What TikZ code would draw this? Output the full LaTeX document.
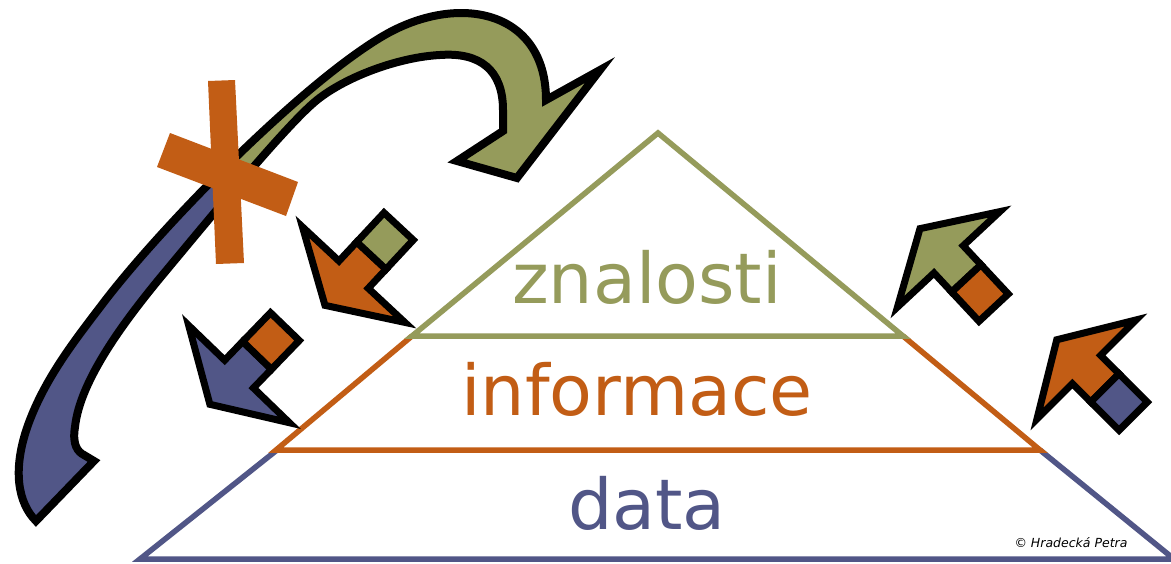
\documentclass[tikz,border=0pt]{standalone}
\usepackage{fontspec}
\newfontfamily\labelfont{DejaVu Sans}
\definecolor{kgreen}{RGB}{149,155,91}
\definecolor{korange}{RGB}{194,93,21}
\definecolor{kblue}{RGB}{81,86,135}

% outline of the big curved arrow (tail at lower left, head at upper right)
\newcommand\bigarrowpath{%
  (36,521) .. controls (18,503) and (12,470) .. (28,425)
  .. controls (45,378) and (75,340) .. (104,302)
  .. controls (162,226) and (300,85) .. (383,36)
  .. controls (458,-8) and (546,10) .. (546,100)
  -- (600,70) -- (517,178) -- (457,161) -- (503,131) -- (503,110)
  .. controls (503,70) and (480,52) .. (440,55)
  .. controls (400,57) and (347,76) .. (317,100)
  .. controls (287,124) and (205,224) .. (165,272)
  .. controls (125,320) and (80,380) .. (75,427)
  .. controls (72,445) and (78,452) .. (84,455)
  -- (94,461) -- cycle}

\tikzset{
  pyr/.style={line width=5.5, line join=miter},
  outl/.style={draw=black, line width=7, line join=miter, miter limit=20},
  lbl/.style={font=\labelfont\fontsize{70}{80}\selectfont, inner sep=0, anchor=base},
  pics/sqarrow/.style 2 args={code={
    \filldraw[outl, fill=#1] (20,-20) -- (46,-20) -- (46,-70) -- (88,0) -- (46,70) -- (46,20) -- (20,20) -- cycle;
    \filldraw[outl, fill=#2] (-20,-20) rectangle (20,20);
  }}
}

\begin{document}
\begin{tikzpicture}[x=1pt, y=-1pt]
  \useasboundingbox (0,0) rectangle (1171,563);
  \fill[white] (0,0) rectangle (1171,563);

  % pyramid levels
  \draw[pyr, kblue] (277,450) -- (140,559) -- (1174,559) -- (1040,450);
  \draw[pyr, korange] (412,336) -- (276,450) -- (1040,450) -- (903,336);
  \draw[pyr, kgreen] (412,336) -- (658,133) -- (903,336) -- cycle;

  % level labels
  \node[lbl, text=kgreen]  (znalosti)  at (647,303) {znalosti};
  \node[lbl, text=korange] (informace) at (637,415) {informace};
  \node[lbl, text=kblue]   (data)      at (647,529) {data};

  % big curved arrow: green head part, blue tail part
  \fill[kgreen] \bigarrowpath;
  \begin{scope}
    \clip (-75,-95) -- (700,603) -- (-75,603) -- cycle;
    \fill[kblue] \bigarrowpath;
  \end{scope}
  \draw[line width=8, line join=miter, miter limit=20] \bigarrowpath;

  % crossing mark
  \fill[korange] (208,81) -- (235,80) -- (244,263) -- (216,264) -- cycle;
  \fill[korange] (170,133) -- (298,182) -- (286,216) -- (157,167) -- cycle;

  % small arrows with a square on the tail
  \pic (down1) [rotate=227] at (385,241) {sqarrow={korange}{kgreen}};
  \pic (down2) [rotate=226] at (271,341) {sqarrow={kblue}{korange}};
  \pic (up1)   [rotate=133] at (980,293) {sqarrow={kgreen}{korange}};
  \pic (up2)   [rotate=135] at (1119,402) {sqarrow={korange}{kblue}};

  \node[font=\labelfont\itshape\fontsize{12.5}{14}\selectfont, inner sep=0, anchor=base] (credit) at (1071,547) {© Hradecká Petra};
\end{tikzpicture}
\end{document}
